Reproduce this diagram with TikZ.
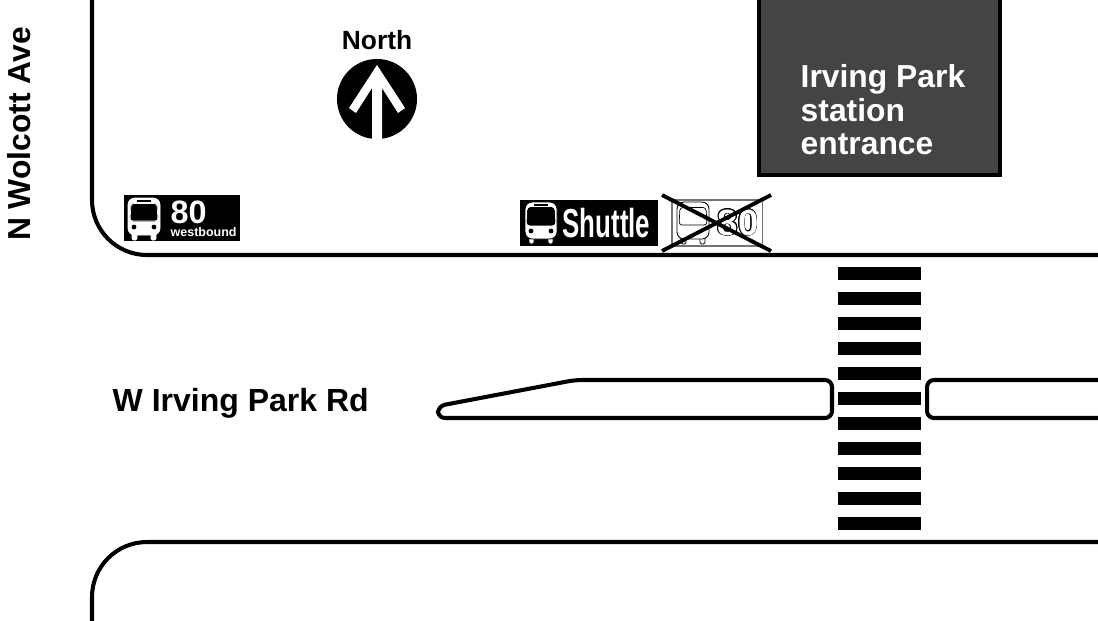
\documentclass[tikz,border=0pt]{standalone}
\usepackage{fontspec}
\setmainfont{Liberation Sans}
\usepackage{contour}
\contourlength{0.22pt}
\usetikzlibrary{positioning}
\definecolor{stationGray}{RGB}{68, 68, 68}
\tikzset{
    road/.style={draw=black, line width=1.15pt, rounded corners=0.55cm},
    median/.style={draw=black, line width=1.15pt, rounded corners=0.07cm},
    stripe/.style={fill=black, inner sep=0pt, minimum width=0.83cm, minimum height=0.13cm},
    sign/.style={fill=black, inner sep=0pt, minimum height=0.46cm},
    oldsign/.style={draw=black!55, line width=0.3pt, inner sep=0pt, minimum height=0.46cm},
    strike/.style={draw=black, line width=1.1pt},
    label/.style={inner sep=0pt, font=\bfseries\fontsize{9.1}{11}\selectfont},
    pics/busicon/.style n args={3}{code={
        \path[fill=#1, draw=#3, line width=0.25pt, rounded corners=0.015cm] (-12,-21) rectangle (-7,-12);
        \path[fill=#1, draw=#3, line width=0.25pt, rounded corners=0.015cm] (7,-21) rectangle (12,-12);
        \path[fill=#1, draw=#3, line width=0.25pt, rounded corners=0.07cm] (-16,-16) rectangle (16,21);
        \path[fill=#2, draw=#2, line width=0.2pt, rounded corners=0.03cm] (-14,-2) -- (-13,15.5) -- (13,15.5) -- (14,-2) -- cycle;
        \draw[#3, line width=0.2pt, rounded corners=0.03cm] (-14,-2) -- (-13,15.5) -- (13,15.5) -- (14,-2) -- cycle;
        \draw[#2, line width=0.3pt] (-7,18) -- (7,18);
        \path[fill=#2] (-10,-8) circle (2.4);
        \path[fill=#2] (10,-8) circle (2.4);
    }}
}

\begin{document}
\begin{tikzpicture}[x=0.01cm, y=0.01cm]
    \useasboundingbox (0,0) rectangle (1098,620);

    % Kerbs of the two corners
    \draw[road] (92,640) -- (92,365) -- (1140,365);
    \draw[road] (92,-20) -- (92,78) -- (1140,78);

    % Medians on either side of the crossing
    \draw[median] (575,240) -- (832,240) -- (832,202) -- (438,202) -- (438,214) -- cycle;
    \draw[median] (1140,240) -- (927,240) -- (927,202) -- (1140,202);

    % Crosswalk
    \foreach \i in {0,...,10}
        \node[stripe] (stripe\i) at (879.5,{346.5-25*\i}) {};

    % Station box
    \draw[fill=stationGray, draw=black, line width=1.15pt] (759,445) rectangle (1000,640);
    \node[label, text=white, anchor=west, align=left, font=\bfseries\fontsize{9.05}{9.5}\selectfont] (station) at (800,510)
        {Irving Park\\station\\entrance};

    % North arrow
    \node[label, font=\bfseries\fontsize{7.5}{9}\selectfont, anchor=base] (north) at (377,571) {North};
    \node[circle, fill=black, inner sep=0pt, minimum size=0.8cm] (disc) at (377,521) {};
    \fill[white] (377,555) -- (405,512) -- (398,507) -- (382,532) -- (382,481)
        -- (372,481) -- (372,532) -- (356,507) -- (349,512) -- cycle;

    % Street names
    \node[label, anchor=base west] (irving) at (112,209) {W Irving Park Rd};
    \node[label, anchor=base, rotate=90, font=\bfseries\fontsize{9.05}{11}\selectfont] (wolcott) at (30,486) {N Wolcott Ave};

    % Bus 80 sign
    \node[sign, minimum width=1.16cm] (sign80) at (182,402) {};
    \pic at (144,401) {busicon={white}{black}{white}};
    \node[label, text=white, anchor=base west, font=\bfseries\fontsize{9.2}{11}\selectfont] (num80) at (170,397) {80};
    \node[label, text=white, anchor=base west, font=\bfseries\fontsize{3.55}{4}\selectfont] (west80) at (170,384) {westbound};

    % Shuttle sign
    \node[sign, minimum width=1.38cm] (signshuttle) at (589,397) {};
    \pic at (541,397) {busicon={white}{black}{black}};
    \node[label, text=white, anchor=base, font=\bfseries\fontsize{11.5}{13}\selectfont, xscale=0.64, transform shape] (shuttle) at (606.5,383) {Shuttle};

    % Old stop, struck out
    \node[oldsign, minimum width=0.9cm] (signold) at (717,397) {};
    \pic at (693,397) {busicon={white}{white}{black}};
    \node[label, text=white, font=\bfseries\fontsize{10.4}{11}\selectfont] (numold) at (738,397) {\contour{black}{80}};
    \coordinate (strikeA) at (662,425);
    \coordinate (strikeB) at (771,369);
    \coordinate (strikeC) at (662,369);
    \coordinate (strikeD) at (771,425);
    \draw[strike] (strikeA) -- (strikeB);
    \draw[strike] (strikeC) -- (strikeD);
\end{tikzpicture}
\end{document}
